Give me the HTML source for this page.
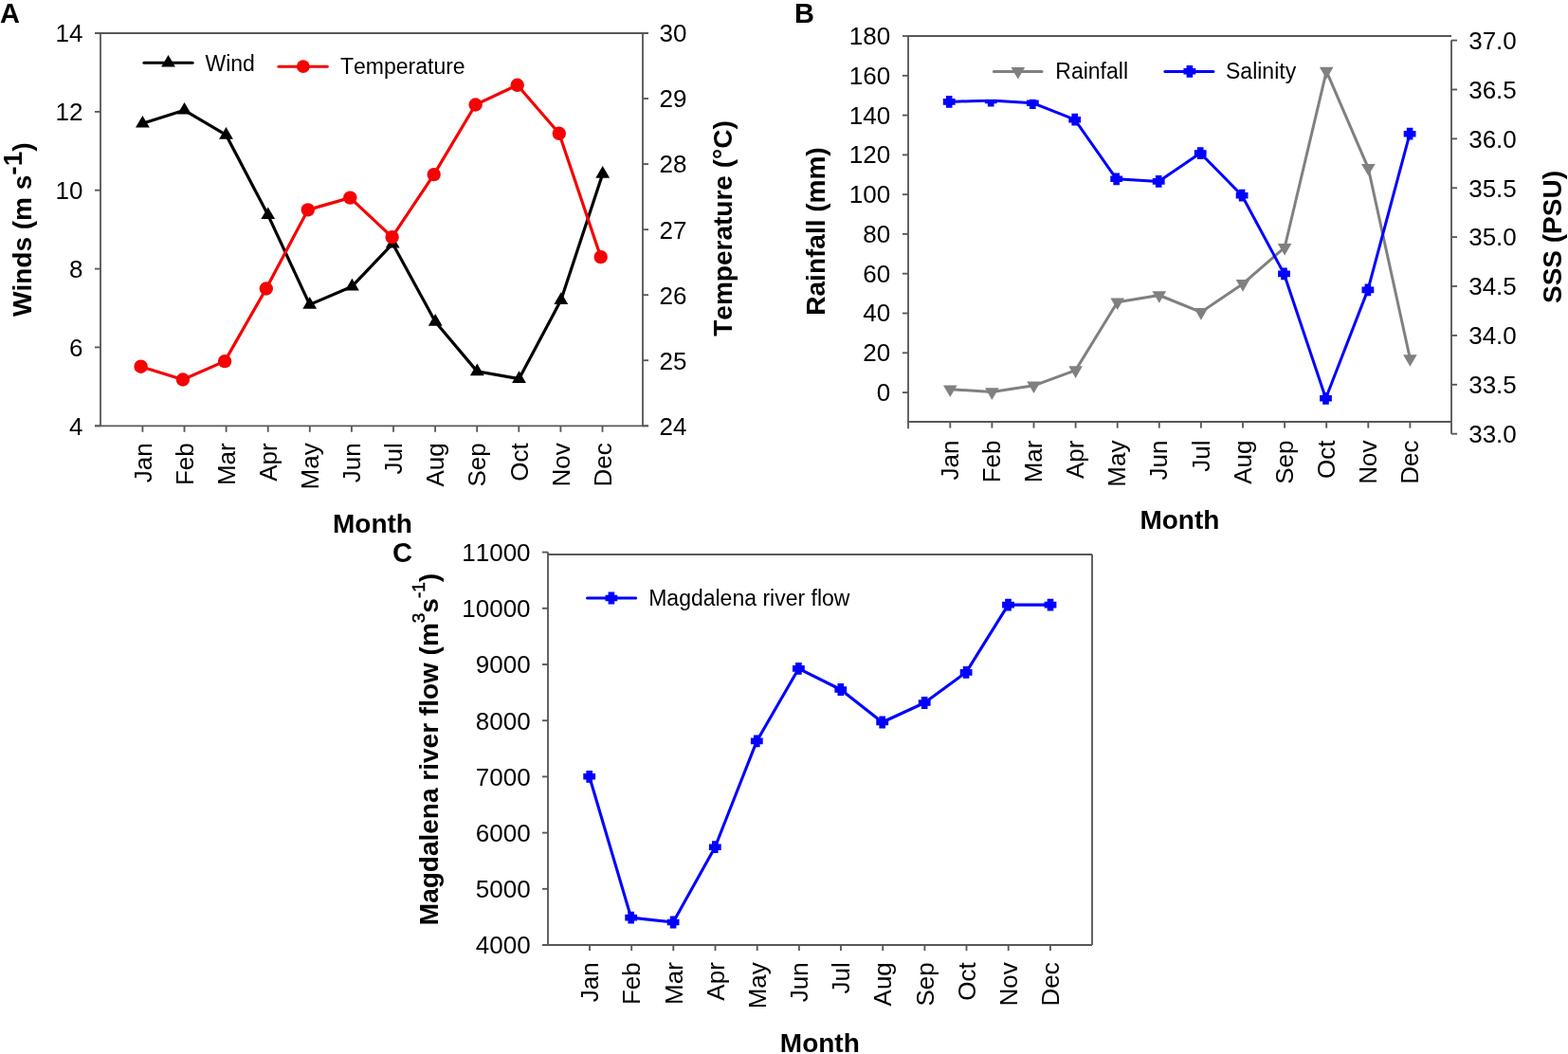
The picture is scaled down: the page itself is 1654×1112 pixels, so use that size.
<!DOCTYPE html>
<html><head><meta charset="utf-8"><title>Figure</title>
<style>
html,body{margin:0;padding:0;background:#fff;width:1654px;height:1112px;overflow:hidden}
svg{display:block}
text{font-family:"Liberation Sans", Arial, sans-serif;fill:#000;font-kerning:none}
</style></head><body>
<svg width="1654" height="1112" viewBox="0 0 1654 1112">
<rect width="1654" height="1112" fill="#fff"/>
<line x1="100.0" y1="35.0" x2="684.0" y2="35.0" stroke="#575757" stroke-width="1.85"/>
<line x1="100.0" y1="449.3" x2="684.0" y2="449.3" stroke="#575757" stroke-width="1.85"/>
<line x1="106.0" y1="35.0" x2="106.0" y2="449.3" stroke="#575757" stroke-width="1.85"/>
<line x1="678.0" y1="35.0" x2="678.0" y2="449.3" stroke="#575757" stroke-width="1.85"/>
<line x1="100.0" y1="35.0" x2="106.0" y2="35.0" stroke="#575757" stroke-width="1.85"/>
<text x="87.4" y="44.3" font-size="26" text-anchor="end" font-weight="normal">14</text>
<line x1="100.0" y1="117.9" x2="106.0" y2="117.9" stroke="#575757" stroke-width="1.85"/>
<text x="87.4" y="127.2" font-size="26" text-anchor="end" font-weight="normal">12</text>
<line x1="100.0" y1="200.7" x2="106.0" y2="200.7" stroke="#575757" stroke-width="1.85"/>
<text x="87.4" y="210.0" font-size="26" text-anchor="end" font-weight="normal">10</text>
<line x1="100.0" y1="283.6" x2="106.0" y2="283.6" stroke="#575757" stroke-width="1.85"/>
<text x="87.4" y="292.9" font-size="26" text-anchor="end" font-weight="normal">8</text>
<line x1="100.0" y1="366.4" x2="106.0" y2="366.4" stroke="#575757" stroke-width="1.85"/>
<text x="87.4" y="375.7" font-size="26" text-anchor="end" font-weight="normal">6</text>
<line x1="100.0" y1="449.3" x2="106.0" y2="449.3" stroke="#575757" stroke-width="1.85"/>
<text x="87.4" y="458.6" font-size="26" text-anchor="end" font-weight="normal">4</text>
<line x1="678.0" y1="35.0" x2="684.0" y2="35.0" stroke="#575757" stroke-width="1.85"/>
<text x="695.5" y="44.3" font-size="26" text-anchor="start" font-weight="normal">30</text>
<line x1="678.0" y1="104.0" x2="684.0" y2="104.0" stroke="#575757" stroke-width="1.85"/>
<text x="695.5" y="113.3" font-size="26" text-anchor="start" font-weight="normal">29</text>
<line x1="678.0" y1="173.1" x2="684.0" y2="173.1" stroke="#575757" stroke-width="1.85"/>
<text x="695.5" y="182.4" font-size="26" text-anchor="start" font-weight="normal">28</text>
<line x1="678.0" y1="242.2" x2="684.0" y2="242.2" stroke="#575757" stroke-width="1.85"/>
<text x="695.5" y="251.5" font-size="26" text-anchor="start" font-weight="normal">27</text>
<line x1="678.0" y1="311.2" x2="684.0" y2="311.2" stroke="#575757" stroke-width="1.85"/>
<text x="695.5" y="320.5" font-size="26" text-anchor="start" font-weight="normal">26</text>
<line x1="678.0" y1="380.2" x2="684.0" y2="380.2" stroke="#575757" stroke-width="1.85"/>
<text x="695.5" y="389.6" font-size="26" text-anchor="start" font-weight="normal">25</text>
<line x1="678.0" y1="449.3" x2="684.0" y2="449.3" stroke="#575757" stroke-width="1.85"/>
<text x="695.5" y="458.6" font-size="26" text-anchor="start" font-weight="normal">24</text>
<line x1="150.4" y1="449.3" x2="150.4" y2="455.8" stroke="#575757" stroke-width="1.85"/>
<line x1="194.5" y1="449.3" x2="194.5" y2="455.8" stroke="#575757" stroke-width="1.85"/>
<line x1="238.6" y1="449.3" x2="238.6" y2="455.8" stroke="#575757" stroke-width="1.85"/>
<line x1="282.7" y1="449.3" x2="282.7" y2="455.8" stroke="#575757" stroke-width="1.85"/>
<line x1="326.8" y1="449.3" x2="326.8" y2="455.8" stroke="#575757" stroke-width="1.85"/>
<line x1="370.9" y1="449.3" x2="370.9" y2="455.8" stroke="#575757" stroke-width="1.85"/>
<line x1="415.0" y1="449.3" x2="415.0" y2="455.8" stroke="#575757" stroke-width="1.85"/>
<line x1="459.1" y1="449.3" x2="459.1" y2="455.8" stroke="#575757" stroke-width="1.85"/>
<line x1="503.2" y1="449.3" x2="503.2" y2="455.8" stroke="#575757" stroke-width="1.85"/>
<line x1="547.3" y1="449.3" x2="547.3" y2="455.8" stroke="#575757" stroke-width="1.85"/>
<line x1="591.4" y1="449.3" x2="591.4" y2="455.8" stroke="#575757" stroke-width="1.85"/>
<line x1="635.5" y1="449.3" x2="635.5" y2="455.8" stroke="#575757" stroke-width="1.85"/>
<text x="159.7" y="467.3" font-size="26" text-anchor="end" font-weight="normal" transform="rotate(-90 159.7 467.3)">Jan</text>
<text x="203.8" y="467.3" font-size="26" text-anchor="end" font-weight="normal" transform="rotate(-90 203.8 467.3)">Feb</text>
<text x="247.9" y="467.3" font-size="26" text-anchor="end" font-weight="normal" transform="rotate(-90 247.9 467.3)">Mar</text>
<text x="292.0" y="467.3" font-size="26" text-anchor="end" font-weight="normal" transform="rotate(-90 292.0 467.3)">Apr</text>
<text x="336.1" y="467.3" font-size="26" text-anchor="end" font-weight="normal" transform="rotate(-90 336.1 467.3)">May</text>
<text x="380.2" y="467.3" font-size="26" text-anchor="end" font-weight="normal" transform="rotate(-90 380.2 467.3)">Jun</text>
<text x="424.3" y="467.3" font-size="26" text-anchor="end" font-weight="normal" transform="rotate(-90 424.3 467.3)">Jul</text>
<text x="468.4" y="467.3" font-size="26" text-anchor="end" font-weight="normal" transform="rotate(-90 468.4 467.3)">Aug</text>
<text x="512.5" y="467.3" font-size="26" text-anchor="end" font-weight="normal" transform="rotate(-90 512.5 467.3)">Sep</text>
<text x="556.6" y="467.3" font-size="26" text-anchor="end" font-weight="normal" transform="rotate(-90 556.6 467.3)">Oct</text>
<text x="600.7" y="467.3" font-size="26" text-anchor="end" font-weight="normal" transform="rotate(-90 600.7 467.3)">Nov</text>
<text x="644.8" y="467.3" font-size="26" text-anchor="end" font-weight="normal" transform="rotate(-90 644.8 467.3)">Dec</text>
<text x="393.0" y="561.9" font-size="28" text-anchor="middle" font-weight="bold">Month</text>
<text x="0.0" y="23.9" font-size="29" text-anchor="start" font-weight="bold">A</text>
<text transform="translate(32.9,242.2) rotate(-90)" font-size="28" font-weight="bold" text-anchor="middle">Winds (m s<tspan dy="-10">-1</tspan><tspan dy="10">)</tspan></text>
<text x="772.4" y="241.0" font-size="28" text-anchor="middle" font-weight="bold" transform="rotate(-90 772.4 241.0)">Temperature (°C)</text>
<polyline points="150.4,130.3 194.5,116.3 238.5,142.4 282.7,226.8 326.7,321.4 371.4,302.2 414.2,257.1 459.2,339.5 503.3,391.9 547.5,399.7 591.8,316.6 635.7,183.4" fill="none" stroke="#000000" stroke-width="3.2" stroke-linejoin="round" stroke-linecap="round"/>
<polygon points="150.4,121.9 157.8,134.6 143.0,134.6" fill="#000000"/>
<polygon points="194.5,107.9 201.9,120.6 187.1,120.6" fill="#000000"/>
<polygon points="238.5,134.0 245.9,146.7 231.1,146.7" fill="#000000"/>
<polygon points="282.7,218.4 290.1,231.1 275.3,231.1" fill="#000000"/>
<polygon points="326.7,313.0 334.1,325.7 319.3,325.7" fill="#000000"/>
<polygon points="371.4,293.8 378.8,306.5 364.0,306.5" fill="#000000"/>
<polygon points="414.2,248.7 421.6,261.4 406.8,261.4" fill="#000000"/>
<polygon points="459.2,331.1 466.6,343.8 451.8,343.8" fill="#000000"/>
<polygon points="503.3,383.5 510.7,396.2 495.9,396.2" fill="#000000"/>
<polygon points="547.5,391.3 554.9,404.0 540.1,404.0" fill="#000000"/>
<polygon points="591.8,308.2 599.2,320.9 584.4,320.9" fill="#000000"/>
<polygon points="635.7,175.0 643.1,187.7 628.3,187.7" fill="#000000"/>
<polyline points="148.6,386.7 192.9,400.5 237.1,381.1 280.8,304.5 324.8,221.4 369.3,208.6 413.6,250.1 457.7,184.1 501.6,110.5 545.7,89.8 589.8,140.8 633.7,271.1" fill="none" stroke="#f40300" stroke-width="3.2" stroke-linejoin="round" stroke-linecap="round"/>
<circle cx="148.6" cy="386.7" r="7.2" fill="#f40300"/>
<circle cx="192.9" cy="400.5" r="7.2" fill="#f40300"/>
<circle cx="237.1" cy="381.1" r="7.2" fill="#f40300"/>
<circle cx="280.8" cy="304.5" r="7.2" fill="#f40300"/>
<circle cx="324.8" cy="221.4" r="7.2" fill="#f40300"/>
<circle cx="369.3" cy="208.6" r="7.2" fill="#f40300"/>
<circle cx="413.6" cy="250.1" r="7.2" fill="#f40300"/>
<circle cx="457.7" cy="184.1" r="7.2" fill="#f40300"/>
<circle cx="501.6" cy="110.5" r="7.2" fill="#f40300"/>
<circle cx="545.7" cy="89.8" r="7.2" fill="#f40300"/>
<circle cx="589.8" cy="140.8" r="7.2" fill="#f40300"/>
<circle cx="633.7" cy="271.1" r="7.2" fill="#f40300"/>
<line x1="151.9" y1="66.3" x2="203.1" y2="66.3" stroke="#000000" stroke-width="3" stroke-linecap="round"/>
<polygon points="177.5,57.9 184.9,70.6 170.1,70.6" fill="#000000"/>
<text x="216.5" y="74.8" font-size="23" text-anchor="start" font-weight="normal">Wind</text>
<line x1="293.9" y1="70.2" x2="345.3" y2="70.2" stroke="#f40300" stroke-width="3" stroke-linecap="round"/>
<circle cx="319.8" cy="70.2" r="6.9" fill="#f40300"/>
<text x="359.0" y="78.1" font-size="23" text-anchor="start" font-weight="normal">Temperature</text>
<line x1="958.0" y1="38.0" x2="1531.0" y2="38.0" stroke="#575757" stroke-width="1.85"/>
<line x1="958.0" y1="445.0" x2="1531.0" y2="445.0" stroke="#575757" stroke-width="1.85"/>
<line x1="958.0" y1="38.0" x2="958.0" y2="452.2" stroke="#575757" stroke-width="1.85"/>
<line x1="952.0" y1="38.0" x2="958.0" y2="38.0" stroke="#575757" stroke-width="1.85"/>
<text x="939.2" y="46.9" font-size="26" text-anchor="end" font-weight="normal">180</text>
<line x1="952.0" y1="79.8" x2="958.0" y2="79.8" stroke="#575757" stroke-width="1.85"/>
<text x="939.2" y="88.7" font-size="26" text-anchor="end" font-weight="normal">160</text>
<line x1="952.0" y1="121.6" x2="958.0" y2="121.6" stroke="#575757" stroke-width="1.85"/>
<text x="939.2" y="130.5" font-size="26" text-anchor="end" font-weight="normal">140</text>
<line x1="952.0" y1="163.4" x2="958.0" y2="163.4" stroke="#575757" stroke-width="1.85"/>
<text x="939.2" y="172.3" font-size="26" text-anchor="end" font-weight="normal">120</text>
<line x1="952.0" y1="205.2" x2="958.0" y2="205.2" stroke="#575757" stroke-width="1.85"/>
<text x="939.2" y="214.1" font-size="26" text-anchor="end" font-weight="normal">100</text>
<line x1="952.0" y1="246.9" x2="958.0" y2="246.9" stroke="#575757" stroke-width="1.85"/>
<text x="939.2" y="255.8" font-size="26" text-anchor="end" font-weight="normal">80</text>
<line x1="952.0" y1="288.7" x2="958.0" y2="288.7" stroke="#575757" stroke-width="1.85"/>
<text x="939.2" y="297.6" font-size="26" text-anchor="end" font-weight="normal">60</text>
<line x1="952.0" y1="330.5" x2="958.0" y2="330.5" stroke="#575757" stroke-width="1.85"/>
<text x="939.2" y="339.4" font-size="26" text-anchor="end" font-weight="normal">40</text>
<line x1="952.0" y1="372.3" x2="958.0" y2="372.3" stroke="#575757" stroke-width="1.85"/>
<text x="939.2" y="381.2" font-size="26" text-anchor="end" font-weight="normal">20</text>
<line x1="952.0" y1="414.1" x2="958.0" y2="414.1" stroke="#575757" stroke-width="1.85"/>
<text x="939.2" y="423.0" font-size="26" text-anchor="end" font-weight="normal">0</text>
<line x1="1531.0" y1="42.6" x2="1531.0" y2="457.7" stroke="#575757" stroke-width="1.85"/>
<line x1="1531.0" y1="42.6" x2="1537.0" y2="42.6" stroke="#575757" stroke-width="1.85"/>
<text x="1549.2" y="51.9" font-size="26" text-anchor="start" font-weight="normal">37.0</text>
<line x1="1531.0" y1="94.5" x2="1537.0" y2="94.5" stroke="#575757" stroke-width="1.85"/>
<text x="1549.2" y="103.8" font-size="26" text-anchor="start" font-weight="normal">36.5</text>
<line x1="1531.0" y1="146.4" x2="1537.0" y2="146.4" stroke="#575757" stroke-width="1.85"/>
<text x="1549.2" y="155.7" font-size="26" text-anchor="start" font-weight="normal">36.0</text>
<line x1="1531.0" y1="198.3" x2="1537.0" y2="198.3" stroke="#575757" stroke-width="1.85"/>
<text x="1549.2" y="207.6" font-size="26" text-anchor="start" font-weight="normal">35.5</text>
<line x1="1531.0" y1="250.1" x2="1537.0" y2="250.1" stroke="#575757" stroke-width="1.85"/>
<text x="1549.2" y="259.4" font-size="26" text-anchor="start" font-weight="normal">35.0</text>
<line x1="1531.0" y1="302.0" x2="1537.0" y2="302.0" stroke="#575757" stroke-width="1.85"/>
<text x="1549.2" y="311.3" font-size="26" text-anchor="start" font-weight="normal">34.5</text>
<line x1="1531.0" y1="353.9" x2="1537.0" y2="353.9" stroke="#575757" stroke-width="1.85"/>
<text x="1549.2" y="363.2" font-size="26" text-anchor="start" font-weight="normal">34.0</text>
<line x1="1531.0" y1="405.8" x2="1537.0" y2="405.8" stroke="#575757" stroke-width="1.85"/>
<text x="1549.2" y="415.1" font-size="26" text-anchor="start" font-weight="normal">33.5</text>
<line x1="1531.0" y1="457.7" x2="1537.0" y2="457.7" stroke="#575757" stroke-width="1.85"/>
<text x="1549.2" y="467.0" font-size="26" text-anchor="start" font-weight="normal">33.0</text>
<line x1="1002.3" y1="445.0" x2="1002.3" y2="451.6" stroke="#575757" stroke-width="1.85"/>
<line x1="1046.4" y1="445.0" x2="1046.4" y2="451.6" stroke="#575757" stroke-width="1.85"/>
<line x1="1090.5" y1="445.0" x2="1090.5" y2="451.6" stroke="#575757" stroke-width="1.85"/>
<line x1="1134.6" y1="445.0" x2="1134.6" y2="451.6" stroke="#575757" stroke-width="1.85"/>
<line x1="1178.7" y1="445.0" x2="1178.7" y2="451.6" stroke="#575757" stroke-width="1.85"/>
<line x1="1222.8" y1="445.0" x2="1222.8" y2="451.6" stroke="#575757" stroke-width="1.85"/>
<line x1="1266.9" y1="445.0" x2="1266.9" y2="451.6" stroke="#575757" stroke-width="1.85"/>
<line x1="1311.0" y1="445.0" x2="1311.0" y2="451.6" stroke="#575757" stroke-width="1.85"/>
<line x1="1355.1" y1="445.0" x2="1355.1" y2="451.6" stroke="#575757" stroke-width="1.85"/>
<line x1="1399.2" y1="445.0" x2="1399.2" y2="451.6" stroke="#575757" stroke-width="1.85"/>
<line x1="1443.3" y1="445.0" x2="1443.3" y2="451.6" stroke="#575757" stroke-width="1.85"/>
<line x1="1487.4" y1="445.0" x2="1487.4" y2="451.6" stroke="#575757" stroke-width="1.85"/>
<text x="1010.9" y="464.5" font-size="26" text-anchor="end" font-weight="normal" transform="rotate(-90 1010.9 464.5)">Jan</text>
<text x="1055.0" y="464.5" font-size="26" text-anchor="end" font-weight="normal" transform="rotate(-90 1055.0 464.5)">Feb</text>
<text x="1099.1" y="464.5" font-size="26" text-anchor="end" font-weight="normal" transform="rotate(-90 1099.1 464.5)">Mar</text>
<text x="1143.2" y="464.5" font-size="26" text-anchor="end" font-weight="normal" transform="rotate(-90 1143.2 464.5)">Apr</text>
<text x="1187.3" y="464.5" font-size="26" text-anchor="end" font-weight="normal" transform="rotate(-90 1187.3 464.5)">May</text>
<text x="1231.4" y="464.5" font-size="26" text-anchor="end" font-weight="normal" transform="rotate(-90 1231.4 464.5)">Jun</text>
<text x="1275.5" y="464.5" font-size="26" text-anchor="end" font-weight="normal" transform="rotate(-90 1275.5 464.5)">Jul</text>
<text x="1319.6" y="464.5" font-size="26" text-anchor="end" font-weight="normal" transform="rotate(-90 1319.6 464.5)">Aug</text>
<text x="1363.7" y="464.5" font-size="26" text-anchor="end" font-weight="normal" transform="rotate(-90 1363.7 464.5)">Sep</text>
<text x="1407.8" y="464.5" font-size="26" text-anchor="end" font-weight="normal" transform="rotate(-90 1407.8 464.5)">Oct</text>
<text x="1451.9" y="464.5" font-size="26" text-anchor="end" font-weight="normal" transform="rotate(-90 1451.9 464.5)">Nov</text>
<text x="1496.0" y="464.5" font-size="26" text-anchor="end" font-weight="normal" transform="rotate(-90 1496.0 464.5)">Dec</text>
<text x="1244.4" y="558.4" font-size="28" text-anchor="middle" font-weight="bold">Month</text>
<text x="838.0" y="24.4" font-size="29" text-anchor="start" font-weight="bold">B</text>
<text x="869.6" y="244.0" font-size="28" text-anchor="middle" font-weight="bold" transform="rotate(-90 869.6 244.0)">Rainfall (mm)</text>
<text x="1646.9" y="250.0" font-size="28" text-anchor="middle" font-weight="bold" transform="rotate(-90 1646.9 250.0)">SSS (PSU)</text>
<polyline points="1002.3,410.7 1046.4,413.6 1090.5,406.8 1134.6,390.6 1178.7,318.8 1222.8,311.5 1266.9,329.4 1311.0,299.4 1355.1,261.2 1399.2,75.1 1443.3,177.3 1487.4,378.5" fill="none" stroke="#808080" stroke-width="3.0" stroke-linejoin="round" stroke-linecap="round"/>
<polygon points="1002.3,419.0 1009.6,406.4 995.0,406.4" fill="#808080"/>
<polygon points="1046.4,421.9 1053.7,409.3 1039.1,409.3" fill="#808080"/>
<polygon points="1090.5,415.1 1097.8,402.5 1083.2,402.5" fill="#808080"/>
<polygon points="1134.6,398.9 1141.9,386.3 1127.3,386.3" fill="#808080"/>
<polygon points="1178.7,327.1 1186.0,314.5 1171.4,314.5" fill="#808080"/>
<polygon points="1222.8,319.8 1230.1,307.2 1215.5,307.2" fill="#808080"/>
<polygon points="1266.9,337.7 1274.2,325.1 1259.6,325.1" fill="#808080"/>
<polygon points="1311.0,307.7 1318.3,295.1 1303.7,295.1" fill="#808080"/>
<polygon points="1355.1,269.5 1362.4,256.9 1347.8,256.9" fill="#808080"/>
<polygon points="1399.2,83.4 1406.5,70.8 1391.9,70.8" fill="#808080"/>
<polygon points="1443.3,185.6 1450.6,173.0 1436.0,173.0" fill="#808080"/>
<polygon points="1487.4,386.8 1494.7,374.2 1480.1,374.2" fill="#808080"/>
<polyline points="1001.2,107.4 1045.2,106.0 1089.3,108.7 1133.7,126.2 1177.7,188.8 1222.2,191.4 1266.2,161.6 1310.1,206.2 1354.5,288.9 1398.5,420.3 1442.9,305.9 1487.1,141.2" fill="none" stroke="#0000ff" stroke-width="3.0" stroke-linejoin="round" stroke-linecap="round"/>
<polygon points="997.9,101.0 1004.5,101.0 1004.5,104.1 1007.6,104.1 1007.6,110.7 1004.5,110.7 1004.5,113.8 997.9,113.8 997.9,110.7 994.8,110.7 994.8,104.1 997.9,104.1" fill="#0000ff"/>
<polygon points="1041.9,99.6 1048.5,99.6 1048.5,102.7 1051.6,102.7 1051.6,109.3 1048.5,109.3 1048.5,112.4 1041.9,112.4 1041.9,109.3 1038.8,109.3 1038.8,102.7 1041.9,102.7" fill="#0000ff"/>
<polygon points="1086.0,102.3 1092.6,102.3 1092.6,105.4 1095.7,105.4 1095.7,112.0 1092.6,112.0 1092.6,115.1 1086.0,115.1 1086.0,112.0 1082.9,112.0 1082.9,105.4 1086.0,105.4" fill="#0000ff"/>
<polygon points="1130.4,119.8 1137.0,119.8 1137.0,122.9 1140.1,122.9 1140.1,129.5 1137.0,129.5 1137.0,132.6 1130.4,132.6 1130.4,129.5 1127.3,129.5 1127.3,122.9 1130.4,122.9" fill="#0000ff"/>
<polygon points="1174.4,182.4 1181.0,182.4 1181.0,185.5 1184.1,185.5 1184.1,192.1 1181.0,192.1 1181.0,195.2 1174.4,195.2 1174.4,192.1 1171.3,192.1 1171.3,185.5 1174.4,185.5" fill="#0000ff"/>
<polygon points="1218.9,185.0 1225.5,185.0 1225.5,188.1 1228.6,188.1 1228.6,194.7 1225.5,194.7 1225.5,197.8 1218.9,197.8 1218.9,194.7 1215.8,194.7 1215.8,188.1 1218.9,188.1" fill="#0000ff"/>
<polygon points="1262.9,155.2 1269.5,155.2 1269.5,158.3 1272.6,158.3 1272.6,164.9 1269.5,164.9 1269.5,168.0 1262.9,168.0 1262.9,164.9 1259.8,164.9 1259.8,158.3 1262.9,158.3" fill="#0000ff"/>
<polygon points="1306.8,199.8 1313.4,199.8 1313.4,202.9 1316.5,202.9 1316.5,209.5 1313.4,209.5 1313.4,212.6 1306.8,212.6 1306.8,209.5 1303.7,209.5 1303.7,202.9 1306.8,202.9" fill="#0000ff"/>
<polygon points="1351.2,282.5 1357.8,282.5 1357.8,285.6 1360.9,285.6 1360.9,292.2 1357.8,292.2 1357.8,295.3 1351.2,295.3 1351.2,292.2 1348.1,292.2 1348.1,285.6 1351.2,285.6" fill="#0000ff"/>
<polygon points="1395.2,413.9 1401.8,413.9 1401.8,417.0 1404.9,417.0 1404.9,423.6 1401.8,423.6 1401.8,426.7 1395.2,426.7 1395.2,423.6 1392.1,423.6 1392.1,417.0 1395.2,417.0" fill="#0000ff"/>
<polygon points="1439.6,299.5 1446.2,299.5 1446.2,302.6 1449.3,302.6 1449.3,309.2 1446.2,309.2 1446.2,312.3 1439.6,312.3 1439.6,309.2 1436.5,309.2 1436.5,302.6 1439.6,302.6" fill="#0000ff"/>
<polygon points="1483.8,134.8 1490.4,134.8 1490.4,137.9 1493.5,137.9 1493.5,144.5 1490.4,144.5 1490.4,147.6 1483.8,147.6 1483.8,144.5 1480.7,144.5 1480.7,137.9 1483.8,137.9" fill="#0000ff"/>
<rect x="1025" y="52" width="355" height="52.8" fill="#fff"/>
<line x1="1048.4" y1="75.5" x2="1099.0" y2="75.5" stroke="#808080" stroke-width="3" stroke-linecap="round"/>
<polygon points="1073.8,83.6 1081.1,71.0 1066.5,71.0" fill="#808080"/>
<text x="1113.3" y="83.1" font-size="23" text-anchor="start" font-weight="normal">Rainfall</text>
<line x1="1228.9" y1="75.5" x2="1279.9" y2="75.5" stroke="#0000ff" stroke-width="3" stroke-linecap="round"/>
<polygon points="1251.6,68.9 1258.2,68.9 1258.2,72.0 1261.3,72.0 1261.3,78.6 1258.2,78.6 1258.2,81.7 1251.6,81.7 1251.6,78.6 1248.5,78.6 1248.5,72.0 1251.6,72.0" fill="#0000ff"/>
<text x="1293.0" y="83.1" font-size="23" text-anchor="start" font-weight="normal">Salinity</text>
<line x1="578.0" y1="585.0" x2="1152.0" y2="585.0" stroke="#575757" stroke-width="1.85"/>
<line x1="572.0" y1="997.0" x2="1152.0" y2="997.0" stroke="#575757" stroke-width="1.85"/>
<line x1="578.0" y1="582.6" x2="578.0" y2="997.0" stroke="#575757" stroke-width="1.85"/>
<line x1="1152.0" y1="585.0" x2="1152.0" y2="997.0" stroke="#575757" stroke-width="1.85"/>
<line x1="572.0" y1="582.6" x2="578.0" y2="582.6" stroke="#575757" stroke-width="1.85"/>
<text x="559.6" y="591.9" font-size="26" text-anchor="end" font-weight="normal">11000</text>
<line x1="572.0" y1="641.8" x2="578.0" y2="641.8" stroke="#575757" stroke-width="1.85"/>
<text x="559.6" y="651.1" font-size="26" text-anchor="end" font-weight="normal">10000</text>
<line x1="572.0" y1="701.0" x2="578.0" y2="701.0" stroke="#575757" stroke-width="1.85"/>
<text x="559.6" y="710.3" font-size="26" text-anchor="end" font-weight="normal">9000</text>
<line x1="572.0" y1="760.2" x2="578.0" y2="760.2" stroke="#575757" stroke-width="1.85"/>
<text x="559.6" y="769.5" font-size="26" text-anchor="end" font-weight="normal">8000</text>
<line x1="572.0" y1="819.4" x2="578.0" y2="819.4" stroke="#575757" stroke-width="1.85"/>
<text x="559.6" y="828.7" font-size="26" text-anchor="end" font-weight="normal">7000</text>
<line x1="572.0" y1="878.6" x2="578.0" y2="878.6" stroke="#575757" stroke-width="1.85"/>
<text x="559.6" y="887.9" font-size="26" text-anchor="end" font-weight="normal">6000</text>
<line x1="572.0" y1="937.8" x2="578.0" y2="937.8" stroke="#575757" stroke-width="1.85"/>
<text x="559.6" y="947.1" font-size="26" text-anchor="end" font-weight="normal">5000</text>
<line x1="572.0" y1="997.0" x2="578.0" y2="997.0" stroke="#575757" stroke-width="1.85"/>
<text x="559.6" y="1006.3" font-size="26" text-anchor="end" font-weight="normal">4000</text>
<line x1="622.0" y1="997.0" x2="622.0" y2="1003.0" stroke="#575757" stroke-width="1.85"/>
<line x1="666.2" y1="997.0" x2="666.2" y2="1003.0" stroke="#575757" stroke-width="1.85"/>
<line x1="710.3" y1="997.0" x2="710.3" y2="1003.0" stroke="#575757" stroke-width="1.85"/>
<line x1="754.5" y1="997.0" x2="754.5" y2="1003.0" stroke="#575757" stroke-width="1.85"/>
<line x1="798.7" y1="997.0" x2="798.7" y2="1003.0" stroke="#575757" stroke-width="1.85"/>
<line x1="842.9" y1="997.0" x2="842.9" y2="1003.0" stroke="#575757" stroke-width="1.85"/>
<line x1="887.0" y1="997.0" x2="887.0" y2="1003.0" stroke="#575757" stroke-width="1.85"/>
<line x1="931.2" y1="997.0" x2="931.2" y2="1003.0" stroke="#575757" stroke-width="1.85"/>
<line x1="975.4" y1="997.0" x2="975.4" y2="1003.0" stroke="#575757" stroke-width="1.85"/>
<line x1="1019.5" y1="997.0" x2="1019.5" y2="1003.0" stroke="#575757" stroke-width="1.85"/>
<line x1="1063.7" y1="997.0" x2="1063.7" y2="1003.0" stroke="#575757" stroke-width="1.85"/>
<line x1="1107.9" y1="997.0" x2="1107.9" y2="1003.0" stroke="#575757" stroke-width="1.85"/>
<text x="631.3" y="1015.2" font-size="26" text-anchor="end" font-weight="normal" transform="rotate(-90 631.3 1015.2)">Jan</text>
<text x="675.5" y="1015.2" font-size="26" text-anchor="end" font-weight="normal" transform="rotate(-90 675.5 1015.2)">Feb</text>
<text x="719.6" y="1015.2" font-size="26" text-anchor="end" font-weight="normal" transform="rotate(-90 719.6 1015.2)">Mar</text>
<text x="763.8" y="1015.2" font-size="26" text-anchor="end" font-weight="normal" transform="rotate(-90 763.8 1015.2)">Apr</text>
<text x="808.0" y="1015.2" font-size="26" text-anchor="end" font-weight="normal" transform="rotate(-90 808.0 1015.2)">May</text>
<text x="852.1" y="1015.2" font-size="26" text-anchor="end" font-weight="normal" transform="rotate(-90 852.1 1015.2)">Jun</text>
<text x="896.3" y="1015.2" font-size="26" text-anchor="end" font-weight="normal" transform="rotate(-90 896.3 1015.2)">Jul</text>
<text x="940.5" y="1015.2" font-size="26" text-anchor="end" font-weight="normal" transform="rotate(-90 940.5 1015.2)">Aug</text>
<text x="984.7" y="1015.2" font-size="26" text-anchor="end" font-weight="normal" transform="rotate(-90 984.7 1015.2)">Sep</text>
<text x="1028.8" y="1015.2" font-size="26" text-anchor="end" font-weight="normal" transform="rotate(-90 1028.8 1015.2)">Oct</text>
<text x="1073.0" y="1015.2" font-size="26" text-anchor="end" font-weight="normal" transform="rotate(-90 1073.0 1015.2)">Nov</text>
<text x="1117.2" y="1015.2" font-size="26" text-anchor="end" font-weight="normal" transform="rotate(-90 1117.2 1015.2)">Dec</text>
<text x="864.8" y="1110.0" font-size="28" text-anchor="middle" font-weight="bold">Month</text>
<text x="414.0" y="593.0" font-size="29" text-anchor="start" font-weight="bold">C</text>
<text transform="translate(461.9,790.5) rotate(-90)" font-size="28" font-weight="bold" text-anchor="middle">Magdalena river flow (m<tspan font-size="19" font-weight="normal" stroke="#000" stroke-width="0.5" dy="-14">3</tspan><tspan dy="14">s</tspan><tspan font-size="19" font-weight="normal" stroke="#000" stroke-width="0.5" dy="-14">-1</tspan><tspan dy="14">)</tspan></text>
<polyline points="621.7,819.3 665.7,968.1 710.1,973.0 754.3,893.7 798.3,781.9 842.4,705.4 886.8,727.5 930.7,762.0 975.2,741.5 1019.1,709.4 1063.5,638.1 1108.0,638.1" fill="none" stroke="#0000ff" stroke-width="3.1" stroke-linejoin="round" stroke-linecap="round"/>
<polygon points="618.4,812.9 625.0,812.9 625.0,816.0 628.1,816.0 628.1,822.6 625.0,822.6 625.0,825.7 618.4,825.7 618.4,822.6 615.3,822.6 615.3,816.0 618.4,816.0" fill="#0000ff"/>
<polygon points="662.4,961.7 669.0,961.7 669.0,964.8 672.1,964.8 672.1,971.4 669.0,971.4 669.0,974.5 662.4,974.5 662.4,971.4 659.3,971.4 659.3,964.8 662.4,964.8" fill="#0000ff"/>
<polygon points="706.8,966.6 713.4,966.6 713.4,969.7 716.5,969.7 716.5,976.3 713.4,976.3 713.4,979.4 706.8,979.4 706.8,976.3 703.7,976.3 703.7,969.7 706.8,969.7" fill="#0000ff"/>
<polygon points="751.0,887.3 757.6,887.3 757.6,890.4 760.7,890.4 760.7,897.0 757.6,897.0 757.6,900.1 751.0,900.1 751.0,897.0 747.9,897.0 747.9,890.4 751.0,890.4" fill="#0000ff"/>
<polygon points="795.0,775.5 801.6,775.5 801.6,778.6 804.7,778.6 804.7,785.2 801.6,785.2 801.6,788.3 795.0,788.3 795.0,785.2 791.9,785.2 791.9,778.6 795.0,778.6" fill="#0000ff"/>
<polygon points="839.1,699.0 845.7,699.0 845.7,702.1 848.8,702.1 848.8,708.7 845.7,708.7 845.7,711.8 839.1,711.8 839.1,708.7 836.0,708.7 836.0,702.1 839.1,702.1" fill="#0000ff"/>
<polygon points="883.5,721.1 890.1,721.1 890.1,724.2 893.2,724.2 893.2,730.8 890.1,730.8 890.1,733.9 883.5,733.9 883.5,730.8 880.4,730.8 880.4,724.2 883.5,724.2" fill="#0000ff"/>
<polygon points="927.4,755.6 934.0,755.6 934.0,758.7 937.1,758.7 937.1,765.3 934.0,765.3 934.0,768.4 927.4,768.4 927.4,765.3 924.3,765.3 924.3,758.7 927.4,758.7" fill="#0000ff"/>
<polygon points="971.9,735.1 978.5,735.1 978.5,738.2 981.6,738.2 981.6,744.8 978.5,744.8 978.5,747.9 971.9,747.9 971.9,744.8 968.8,744.8 968.8,738.2 971.9,738.2" fill="#0000ff"/>
<polygon points="1015.8,703.0 1022.4,703.0 1022.4,706.1 1025.5,706.1 1025.5,712.7 1022.4,712.7 1022.4,715.8 1015.8,715.8 1015.8,712.7 1012.7,712.7 1012.7,706.1 1015.8,706.1" fill="#0000ff"/>
<polygon points="1060.2,631.7 1066.8,631.7 1066.8,634.8 1069.9,634.8 1069.9,641.4 1066.8,641.4 1066.8,644.5 1060.2,644.5 1060.2,641.4 1057.1,641.4 1057.1,634.8 1060.2,634.8" fill="#0000ff"/>
<polygon points="1104.7,631.7 1111.3,631.7 1111.3,634.8 1114.4,634.8 1114.4,641.4 1111.3,641.4 1111.3,644.5 1104.7,644.5 1104.7,641.4 1101.6,641.4 1101.6,634.8 1104.7,634.8" fill="#0000ff"/>
<line x1="619.5" y1="631.0" x2="670.7" y2="631.0" stroke="#0000ff" stroke-width="3" stroke-linecap="round"/>
<polygon points="641.6,624.6 648.2,624.6 648.2,627.7 651.3,627.7 651.3,634.3 648.2,634.3 648.2,637.4 641.6,637.4 641.6,634.3 638.5,634.3 638.5,627.7 641.6,627.7" fill="#0000ff"/>
<text x="684.2" y="638.7" font-size="23" text-anchor="start" font-weight="normal">Magdalena river flow</text>
</svg>
</body></html>
